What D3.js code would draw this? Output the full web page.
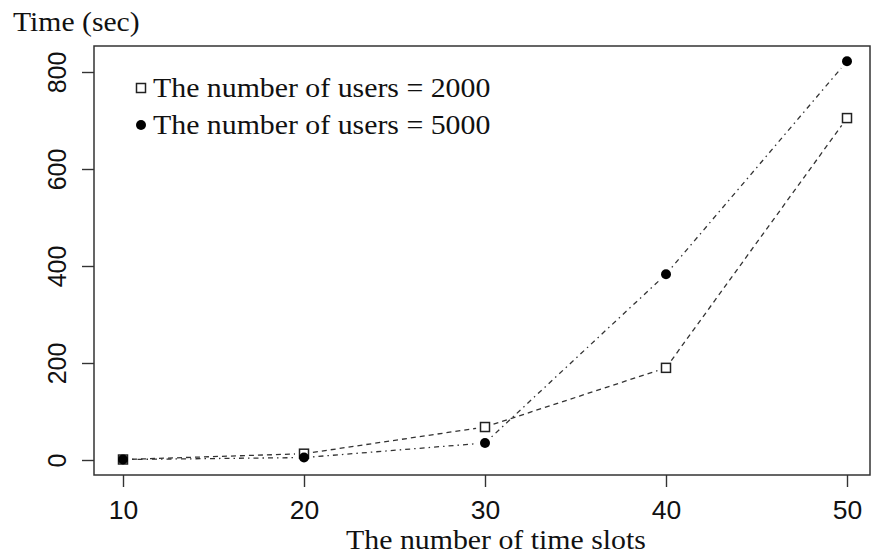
<!DOCTYPE html>
<html>
<head>
<meta charset="utf-8">
<script src="https://cdn.jsdelivr.net/npm/d3@7"></script>
<style>
	body { margin: 0; background: #fff; }
	svg { display: block; }
	.serif { font-family: "Liberation Serif", "Times New Roman", serif; }
	.tick text { font-family: "Liberation Sans", Arial, sans-serif; }
</style>
</head>
<body>
<div id="chart"></div>
<script>
var slots = [10, 20, 30, 40, 50],
	users2000 = [1, 13, 68, 190, 705],
	users5000 = [1, 5, 35, 383, 822],
	xTicks = [10, 20, 30, 40, 50],
	yTicks = [0, 200, 400, 600, 800],
	legendLabels = ["The number of users = 2000", "The number of users = 5000"];

var width = 876,
	height = 555,
	box = {left: 94, right: 870, top: 46, bottom: 475};

var svg = d3.select("#chart").append("svg")
	.attr("width", width)
	.attr("height", height);

var xscale = d3.scaleLinear().domain([10, 50]).range([123, 847]);
var yscale = d3.scaleLinear().domain([0, 800]).range([460, 72]);

// the source text is a bit wider than the fonts we have, stretch it
function stretch(sel, k) {
	sel.each(function () {
		var w = this.getComputedTextLength();
		d3.select(this)
			.attr("textLength", w * k)
			.attr("lengthAdjust", "spacingAndGlyphs");
	});
}

// x axis
var xaxis = d3.axisBottom(xscale)
	.tickValues(xTicks)
	.tickSize(12)
	.tickPadding(14)
	.tickFormat(d3.format("d"));

var gx = svg.append("g")
	.attr("transform", "translate(0," + box.bottom + ")")
	.call(xaxis);
gx.select(".domain").remove();
gx.selectAll(".tick line").attr("stroke", "#333").attr("stroke-width", 1.4);
gx.selectAll(".tick text").attr("font-size", 25).attr("fill", "#111");
stretch(gx.selectAll(".tick text"), 1.06);

// y axis, labels rotated like R
var yaxis = d3.axisLeft(yscale)
	.tickValues(yTicks)
	.tickSize(12)
	.tickFormat(d3.format("d"));

var gy = svg.append("g")
	.attr("transform", "translate(" + box.left + ",0)")
	.call(yaxis);
gy.select(".domain").remove();
gy.selectAll(".tick line").attr("stroke", "#333").attr("stroke-width", 1.4);
gy.selectAll(".tick text")
	.attr("font-size", 25)
	.attr("fill", "#111")
	.attr("x", null)
	.attr("dy", null)
	.attr("text-anchor", "middle")
	.attr("transform", "translate(-28,0) rotate(-90)");

// plot box
svg.append("rect")
	.attr("x", box.left)
	.attr("y", box.top)
	.attr("width", box.right - box.left)
	.attr("height", box.bottom - box.top)
	.attr("fill", "none")
	.attr("stroke", "#333")
	.attr("stroke-width", 1.5);

// lines with gaps around points (R type="b")
function drawSeries(vals, dash) {
	var gap = 9;
	var pts = slots.map(function (s, i) { return [xscale(s), yscale(vals[i])]; });
	for (var i = 0; i < pts.length - 1; i++) {
		var a = pts[i], b = pts[i + 1],
			dx = b[0] - a[0], dy = b[1] - a[1],
			len = Math.sqrt(dx * dx + dy * dy);
		if (len <= 2 * gap) continue;
		var ux = dx / len, uy = dy / len;
		svg.append("line")
			.attr("x1", a[0] + ux * gap)
			.attr("y1", a[1] + uy * gap)
			.attr("x2", b[0] - ux * gap)
			.attr("y2", b[1] - uy * gap)
			.attr("stroke", "#333")
			.attr("stroke-width", 1.3)
			.attr("stroke-dasharray", dash);
	}
}

drawSeries(users2000, "5,4");
drawSeries(users5000, "1.5,4,5,4");

function square(g, x, y) {
	g.append("rect")
		.attr("x", x - 4.5)
		.attr("y", y - 4.5)
		.attr("width", 9)
		.attr("height", 9)
		.attr("fill", "#fff")
		.attr("stroke", "#222")
		.attr("stroke-width", 1.5);
}

function dot(g, x, y) {
	g.append("circle")
		.attr("cx", x)
		.attr("cy", y)
		.attr("r", 5)
		.attr("fill", "#000");
}

slots.forEach(function (s, i) {
	square(svg, xscale(s), yscale(users2000[i]));
});
slots.forEach(function (s, i) {
	dot(svg, xscale(s), yscale(users5000[i]));
});

// legend
var legend = svg.append("g");
legendLabels.forEach(function (lab, i) {
	var y = 88 + i * 37;
	if (i === 0) square(legend, 141, y);
	else dot(legend, 141, y);
	legend.append("text")
		.attr("class", "serif")
		.attr("x", 153)
		.attr("y", y + 9)
		.attr("font-size", 28)
		.attr("fill", "#111")
		.text(lab);
});
stretch(legend.selectAll("text"), 1.065);

// titles
var ytitle = svg.append("text")
	.attr("class", "serif")
	.attr("x", 13)
	.attr("y", 31)
	.attr("font-size", 28)
	.attr("fill", "#111")
	.text("Time (sec)");
stretch(ytitle, 1.06);

var xtitle = svg.append("text")
	.attr("class", "serif")
	.attr("x", 496)
	.attr("y", 549)
	.attr("text-anchor", "middle")
	.attr("font-size", 28)
	.attr("fill", "#111")
	.text("The number of time slots");
stretch(xtitle, 1.065);
</script>
</body>
</html>
